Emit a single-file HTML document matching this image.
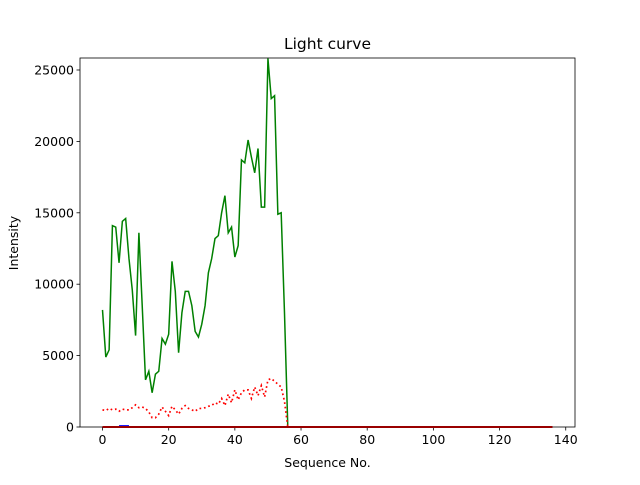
<!DOCTYPE html>
<html><head><meta charset="utf-8"><style>
body{margin:0;background:#fff;font-family:"Liberation Sans","DejaVu Sans",sans-serif}
svg text{font-family:"DejaVu Sans","Liberation Sans",sans-serif;font-size:12.5px}
</style></head><body>
<svg id="chart" width="640" height="480">
<rect width="640" height="480" fill="#fff"/>
<text x="327.5" y="49" text-anchor="middle" style="font-size:15.5px">Light curve</text>
<text x="327.5" y="467" text-anchor="middle">Sequence No.</text>
<text x="18" y="243" text-anchor="middle" transform="rotate(-90 18 243)">Intensity</text>
<g id="plot"></g>
<rect x="80" y="58" width="495" height="369" fill="none" stroke="#000" stroke-width="0.8"/>
</svg>
<script>
const greenValues=[8200,4900,5400,14100,14000,11500,14400,14600,11800,9600,6400,13600,8500,3300,3900,2400,3700,3900,6200,5800,6500,11600,9500,5200,8000,9500,9500,8500,6700,6300,7200,8500,10800,11800,13200,13400,15000,16200,13600,14000,11900,12700,18700,18500,20100,18900,17800,19500,15400,15400,25800,23000,23200,14900,15000,8000,0];
const redDottedValues=[1200,1150,1300,1200,1250,1100,1250,1200,1200,1350,1550,1350,1400,1300,1050,650,650,900,1400,1100,800,1450,1200,900,1300,1500,1300,1200,1100,1300,1300,1350,1450,1500,1700,1600,2000,1500,2300,1700,2600,1900,2400,2600,2600,2000,2800,2200,2900,2100,3300,3400,3200,3000,2800,1800,0];
const blueValues=[[5,80],[8,80]];
const xTicks=[0,20,40,60,80,100,120,140];
const yTicks=[0,5000,10000,15000,20000,25000];
const nTotal=137;
const X0=80,X1=575,Y0=427,Y1=58,xmin=-6.8,xmax=142.8,ymin=0,ymax=25840;
const xs=v=>X0+(v-xmin)/(xmax-xmin)*(X1-X0);
const ys=v=>Y0-(v-ymin)/(ymax-ymin)*(Y0-Y1);
const NS="http://www.w3.org/2000/svg";
const g=document.getElementById('plot');
function mk(t,a){const e=document.createElementNS(NS,t);for(const k in a)e.setAttribute(k,a[k]);g.appendChild(e);return e;}
xTicks.forEach(t=>{
 const l=mk('line',{x1:xs(t),x2:xs(t),y1:Y0,y2:Y0+3.5,stroke:'#000','stroke-width':0.8});
 
 
 const tx=mk('text',{x:xs(t),y:Y0+17,'text-anchor':'middle'});tx.textContent=t;
 
 
});
yTicks.forEach(t=>{
 const l=mk('line',{x1:X0-3.5,x2:X0,y1:ys(t),y2:ys(t),stroke:'#000','stroke-width':0.8});
 
 
 const tx=mk('text',{x:X0-6,y:ys(t)+4.5,'text-anchor':'end'});tx.textContent=t;
 
 
});
function full(arr){const a=[];for(let i=0;i<nTotal;i++)a.push(i<arr.length?arr[i]:0);return a;}
function pts(arr){return arr.map((v,i)=>xs(i)+','+ys(v)).join(' ');}
const gl=mk('polyline',{points:pts(full(greenValues)),fill:'none',stroke:'#008000','stroke-width':1.5});


const rd=mk('polyline',{points:pts(full(redDottedValues)),fill:'none',stroke:'#ff0000','stroke-width':1.7,'stroke-dasharray':'1.7,2.8'});


const bl=mk('polyline',{points:blueValues.map(p=>xs(p[0])+','+ys(p[1])).join(' '),fill:'none',stroke:'#0000ff','stroke-width':1.5});


const rl=mk('polyline',{points:pts(new Array(nTotal).fill(0)),fill:'none',stroke:'#ff0000','stroke-width':2});


</script>
</body></html>
